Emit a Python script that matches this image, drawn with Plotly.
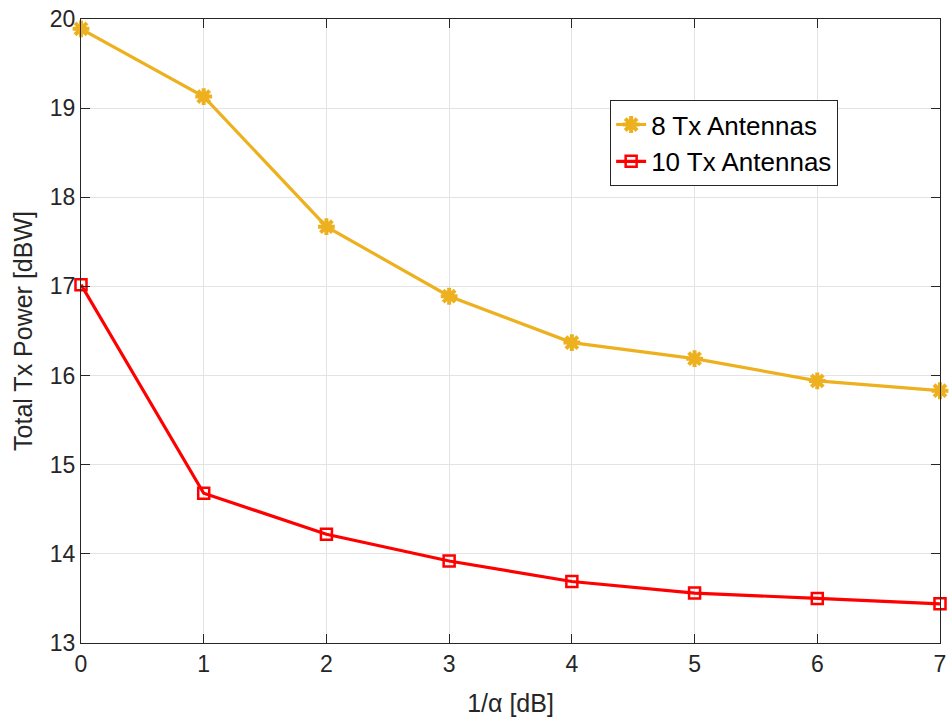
import plotly.graph_objects as go

x_vals = [0, 1, 2, 3, 4, 5, 6, 7]
tx8_power = [19.89, 19.13, 17.67, 16.89, 16.37, 16.19, 15.94, 15.83]
tx10_power = [17.02, 14.68, 14.22, 13.92, 13.69, 13.56, 13.50, 13.44]
series_names = ["8 Tx Antennas", "10 Tx Antennas"]
x_ticks = [0, 1, 2, 3, 4, 5, 6, 7]
y_ticks = [13, 14, 15, 16, 17, 18, 19, 20]

axis_color = "#262626"
grid_color = "#e3e3e3"
font_family = "Liberation Sans, Arial, sans-serif"

fig = go.Figure()
fig.add_trace(go.Scatter(
    x=x_vals, y=tx8_power, name=series_names[0], mode="lines+markers",
    line=dict(color="#EDB120", width=3.2),
    marker=dict(symbol="asterisk-open", size=14, color="#EDB120",
                line=dict(color="#EDB120", width=4)),
    cliponaxis=False,
))
fig.add_trace(go.Scatter(
    x=x_vals, y=tx10_power, name=series_names[1], mode="lines+markers",
    line=dict(color="#FF0000", width=3.2),
    marker=dict(symbol="square-open", size=11, color="#FF0000",
                line=dict(color="#FF0000", width=2.5)),
    cliponaxis=False,
))

axis_common = dict(
    showline=True, linecolor=axis_color, linewidth=1, mirror="ticks",
    ticks="inside", ticklen=9, tickwidth=1, tickcolor=axis_color,
    showgrid=True, gridcolor=grid_color, gridwidth=1, zeroline=False,
    automargin=False,
    tickfont=dict(size=23, color=axis_color, family=font_family),
)

fig.update_xaxes(
    range=[0, 7], tickvals=x_ticks,
    title=dict(text="1/α [dB]", font=dict(size=25, color=axis_color, family=font_family), standoff=18),
    **axis_common,
)
fig.update_yaxes(
    range=[13, 20], tickvals=y_ticks,
    title=dict(text="Total Tx Power [dBW]", font=dict(size=25, color=axis_color, family=font_family), standoff=10),
    **axis_common,
)

fig.update_layout(
    width=950, height=720,
    margin=dict(l=81, r=10, t=19, b=77),
    paper_bgcolor="white", plot_bgcolor="white",
    font=dict(family=font_family, color=axis_color),
    showlegend=True,
    legend=dict(
        x=0.616, y=0.87, xanchor="left", yanchor="top",
        bgcolor="white", bordercolor=axis_color, borderwidth=1,
        font=dict(size=26, color="black", family=font_family),
        itemwidth=30, tracegroupgap=0,
    ),
)

fig.write_html("out.html")
